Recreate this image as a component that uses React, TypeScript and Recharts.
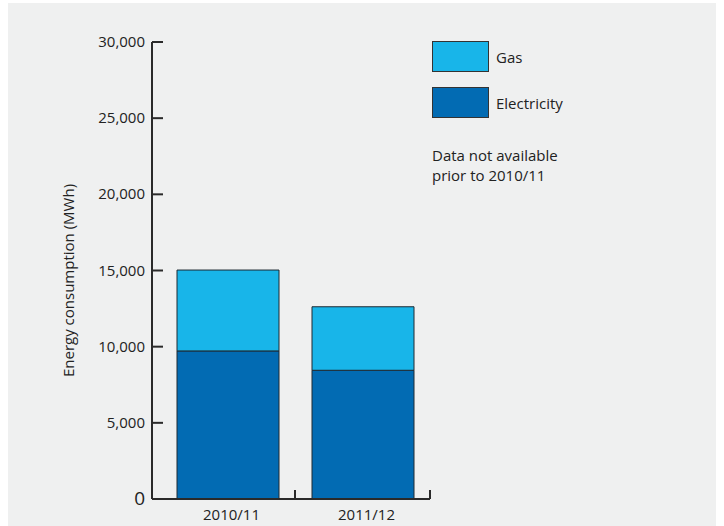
import React from 'react';
import { BarChart, Bar, XAxis, YAxis, Legend } from 'recharts';

const categories = ['2010/11', '2011/12'];
const electricity = [9720, 8450];
const gas = [5310, 4170];
const yTicks = [0, 5000, 10000, 15000, 20000, 25000, 30000];
const seriesNames = { electricity: 'Electricity', gas: 'Gas' };
const noteLines = ['Data not available', 'prior to 2010/11'];

const data = categories.map((c, i) => ({ name: c, electricity: electricity[i], gas: gas[i] }));

const FONT = '"Open Sans", "Noto Sans", sans-serif';
const TEXT = '#222222';
const AXIS = '#2a2a2a';
const ELEC = '#026bb3';
const GAS = '#18b5e9';

const HALF_BAND = 67.5;

const fmt = (v: number) => v.toLocaleString('en-US');

const YTick = (props: any) => {
  const { x, y, payload } = props;
  const isZero = payload.value === 0;
  return (
    <g>
      <line x1={x + 7} x2={x + 18} y1={y} y2={y} stroke={AXIS} strokeWidth={2} />
      <text x={x} y={y} dy={isZero ? 6 : 5} textAnchor="end" fontSize={isZero ? 19 : 15} fill={TEXT} fontFamily={FONT}>
        {fmt(payload.value)}
      </text>
    </g>
  );
};

const XTick = (props: any) => {
  const { x, y, payload } = props;
  const lx = x + HALF_BAND;
  return (
    <g>
      <line x1={lx} x2={lx} y1={y} y2={y - 9} stroke={AXIS} strokeWidth={2} />
      <text x={x + 4} y={y} dy={21} textAnchor="middle" fontSize={15} fill={TEXT} fontFamily={FONT}>
        {payload.value}
      </text>
    </g>
  );
};

const LegendContent = (props: any) => {
  const items = [...(props.payload || [])].reverse();
  return (
    <div style={{ fontFamily: FONT, color: TEXT, fontSize: 15 }}>
      {items.map((it: any) => (
        <div key={it.value} style={{ display: 'flex', alignItems: 'center', height: 31, marginBottom: 15 }}>
          <div style={{ width: 55, height: 29, background: it.color, border: '1px solid #333' }} />
          <span style={{ marginLeft: 7, lineHeight: '20px' }}>{it.value}</span>
        </div>
      ))}
      <div style={{ marginTop: 27, lineHeight: '20px' }}>
        {noteLines.map((l) => (
          <div key={l}>{l}</div>
        ))}
      </div>
    </div>
  );
};

export default function App() {
  return (
    <div style={{ position: 'absolute', left: 0, top: 0, width: 724, height: 526, background: '#ffffff', overflow: 'hidden' }}>
      <div style={{ position: 'absolute', left: 8, top: 3, width: 708, height: 523, background: '#eff0f0' }} />
      <div style={{ position: 'absolute', left: 0, top: 0 }}>
        <BarChart width={724} height={526} data={data} margin={{ top: 42, right: 294, bottom: 0, left: 0 }} barSize={102}>
          <XAxis
            dataKey="name"
            height={27}
            padding={{ left: 8, right: 0 }}
            axisLine={{ stroke: AXIS, strokeWidth: 2 }}
            tickLine={false}
            tickSize={0}
            tickMargin={0}
            tick={<XTick />}
            interval={0}
          />
          <YAxis
            width={152}
            domain={[0, 30000]}
            ticks={yTicks}
            interval={0}
            axisLine={{ stroke: AXIS, strokeWidth: 2 }}
            tickLine={false}
            tickSize={0}
            tickMargin={7}
            tick={<YTick />}
            label={{
              content: (p: any) => {
                const vb = p.viewBox || {};
                const cx = 74;
                const cy = (vb.y || 42) + (vb.height || 457) / 2 + 10;
                return (
                  <text
                    x={cx}
                    y={cy}
                    transform={`rotate(-90 ${cx} ${cy})`}
                    textAnchor="middle"
                    fontSize={15}
                    fill={TEXT}
                    fontFamily={FONT}
                  >
                    Energy consumption (MWh)
                  </text>
                );
              },
            }}
          />
          <Legend
            layout="horizontal"
            verticalAlign="middle"
            align="center"
            content={<LegendContent />}
            wrapperStyle={{ position: 'absolute', left: 432, top: 41, width: 220, height: 160 }}
          />
          <Bar dataKey="electricity" name={seriesNames.electricity} stackId="a" fill={ELEC} stroke="#1f2a33" strokeWidth={1} isAnimationActive={false} />
          <Bar dataKey="gas" name={seriesNames.gas} stackId="a" fill={GAS} stroke="#1f2a33" strokeWidth={1} isAnimationActive={false} />
        </BarChart>
      </div>
    </div>
  );
}
